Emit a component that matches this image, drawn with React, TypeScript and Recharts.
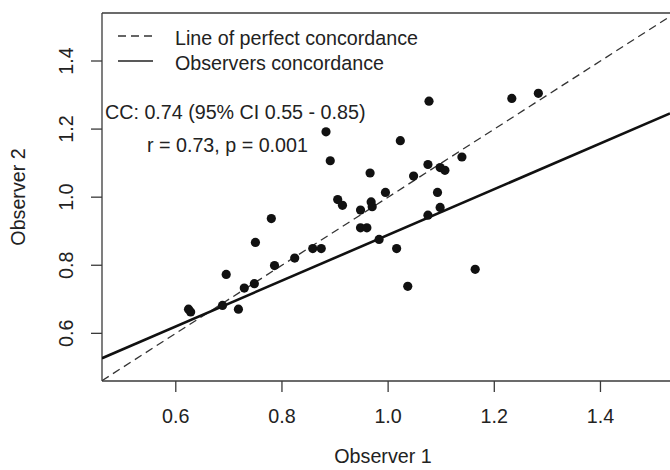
import React from 'react';
import { ScatterChart, Scatter, XAxis, YAxis, ReferenceLine } from 'recharts';

// observer readings (x = observer 1, y = observer 2)
const obs1 = [
  0.624, 0.628, 0.688, 0.695, 0.718, 0.729, 0.748, 0.750, 0.786, 0.780,
  0.824, 0.858, 0.874, 0.883, 0.891, 0.905, 0.914, 0.948, 0.948, 0.960,
  0.966, 0.968, 0.970, 0.983, 0.995, 1.016, 1.023, 1.037, 1.048, 1.075,
  1.075, 1.077, 1.093, 1.098, 1.107, 1.098, 1.139, 1.164, 1.233, 1.283,
];
const obs2 = [
  0.671, 0.663, 0.682, 0.773, 0.671, 0.733, 0.746, 0.867, 0.799, 0.937,
  0.821, 0.849, 0.849, 1.192, 1.107, 0.993, 0.976, 0.962, 0.910, 0.910,
  1.071, 0.986, 0.972, 0.876, 1.014, 0.849, 1.166, 0.738, 1.062, 1.096,
  0.947, 1.282, 1.014, 1.087, 1.079, 0.970, 1.118, 0.788, 1.290, 1.305,
];

const xTicks = [0.6, 0.8, 1.0, 1.2, 1.4];
const yTicks = [0.6, 0.8, 1.0, 1.2, 1.4];
const X_DOMAIN: [number, number] = [0.461, 1.531];
const Y_DOMAIN: [number, number] = [0.46, 1.541];

// y = x and the fitted line, as end points
const perfectLine = [{ x: 0.461, y: 0.461 }, { x: 1.531, y: 1.531 }];
const fitLine = [{ x: 0.461, y: 0.527 }, { x: 1.531, y: 1.246 }];

const points = obs1.map((x, i) => ({ x, y: obs2[i] }));

const FONT = '"Liberation Sans", Arial, Helvetica, sans-serif';
const TXT = '#222';
const AX = '#3a3a3a';

const XTick = (props: any) => {
  const { x, y, payload } = props;
  return (
    <text x={x} y={y + 31} textAnchor="middle" fontSize={19.7} fill={TXT} fontFamily={FONT}>
      {payload.value.toFixed(1)}
    </text>
  );
};

const YTick = (props: any) => {
  const { x, y, payload } = props;
  return (
    <text transform={`translate(${x - 18}, ${y}) rotate(-90)`} textAnchor="middle" fontSize={19.7} fill={TXT} fontFamily={FONT}>
      {payload.value.toFixed(1)}
    </text>
  );
};

const Dot = (props: any) => <circle cx={props.cx} cy={props.cy} r={4.6} fill="#111" />;
const NoDot = () => <g />;

export default function App() {
  return (
    <div style={{ position: 'absolute', left: 0, top: 0, width: 670, height: 470, background: '#fff', overflow: 'hidden' }}>
      <ScatterChart width={670} height={470} margin={{ top: 13, right: 0, bottom: 0, left: 0 }}>
        <XAxis
          type="number"
          dataKey="x"
          domain={X_DOMAIN}
          ticks={xTicks}
          allowDataOverflow
          height={89}
          tickSize={11}
          tickMargin={0}
          stroke={AX}
          strokeWidth={1.3}
          tick={<XTick />}
        />
        <YAxis
          type="number"
          dataKey="y"
          domain={Y_DOMAIN}
          ticks={yTicks}
          allowDataOverflow
          width={102}
          tickSize={11}
          tickMargin={0}
          stroke={AX}
          strokeWidth={1.3}
          tick={<YTick />}
        />
        <ReferenceLine y={Y_DOMAIN[1]} stroke={AX} strokeWidth={1.3} />
        <Scatter
          data={perfectLine}
          line={{ stroke: '#333', strokeWidth: 1.3, strokeDasharray: '8 5' }}
          shape={<NoDot />}
          legendType="none"
          isAnimationActive={false}
        />
        <Scatter
          data={fitLine}
          line={{ stroke: '#111', strokeWidth: 2.6 }}
          shape={<NoDot />}
          legendType="none"
          isAnimationActive={false}
        />
        <Scatter data={points} shape={<Dot />} isAnimationActive={false} />
      </ScatterChart>
      <svg width={670} height={470} style={{ position: 'absolute', left: 0, top: 0, pointerEvents: 'none' }}>
        <g fontFamily={FONT} fontSize={19.7} fill={TXT}>
          <line x1={118} y1={36} x2={153} y2={36} stroke="#333" strokeWidth={1.3} strokeDasharray="8 5" />
          <text x={175} y={45}>Line of perfect concordance</text>
          <line x1={118} y1={61} x2={153} y2={61} stroke="#222" strokeWidth={1.4} />
          <text x={175} y={70}>Observers concordance</text>
          <text x={105} y={119}>CC: 0.74 (95% CI 0.55 - 0.85)</text>
          <text x={147} y={152}>r = 0.73, p = 0.001</text>
          <text x={383} y={463} textAnchor="middle">Observer 1</text>
          <text transform="translate(25, 197) rotate(-90)" textAnchor="middle">Observer 2</text>
        </g>
      </svg>
    </div>
  );
}
